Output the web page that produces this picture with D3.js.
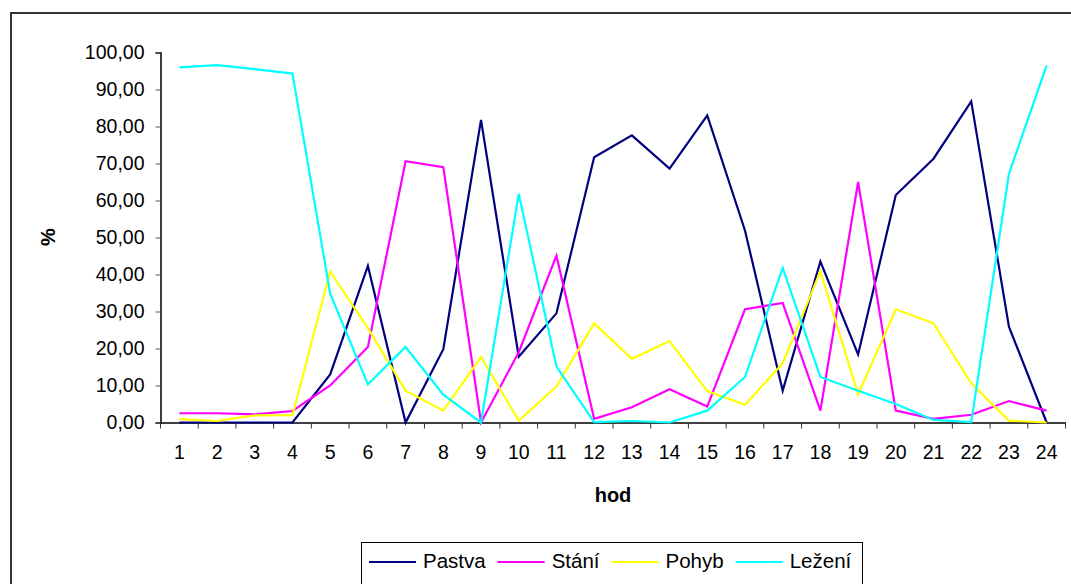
<!DOCTYPE html>
<html>
<head>
<meta charset="utf-8">
<script src="https://cdn.jsdelivr.net/npm/d3@7"></script>
<style>
  body { margin: 0; background: #fff; }
  text { font-family: Arial, "Liberation Sans", sans-serif; fill: #000; }
</style>
</head>
<body>
<div id="chart"></div>
<script>
var hours = ["1","2","3","4","5","6","7","8","9","10","11","12","13","14","15","16","17","18","19","20","21","22","23","24"];

var pastva = [0, 0, 0, 0, 13.0, 42.3, 0, 19.8, 81.8, 17.8, 29.5, 71.7, 77.6, 68.6, 83.0, 51.9, 8.6, 43.5, 18.4, 61.5, 71.3, 86.8, 25.9, 0];
var stani  = [2.5, 2.5, 2.2, 3.1, 10.0, 20.4, 70.6, 69.0, 0, 19.0, 45.1, 1.0, 4.1, 9.0, 4.3, 30.6, 32.3, 3.2, 65.0, 3.2, 1.0, 2.1, 5.8, 3.2];
var pohyb  = [0.9, 0.4, 1.9, 2.0, 40.8, 25.5, 8.6, 3.2, 17.7, 0.5, 9.7, 26.8, 17.2, 22.0, 8.5, 4.8, 16.0, 40.9, 7.6, 30.6, 26.8, 10.6, 0.5, 0];
var lezeni = [96.0, 96.6, 95.5, 94.3, 34.8, 10.3, 20.4, 7.5, 0, 61.8, 15.1, 0.1, 0.4, 0, 3.2, 12.3, 41.8, 12.3, 8.6, 5.0, 0.7, 0.1, 67.2, 96.5];

var seriesNames = ["Pastva", "Stání", "Pohyb", "Ležení"];
var colors = ["#000080", "#FF00FF", "#FFFF00", "#00FFFF"];
var yTicks = [0, 10, 20, 30, 40, 50, 60, 70, 80, 90, 100];

var series = [pastva, stani, pohyb, lezeni].map(function(v, i) {
	return {name: seriesNames[i], values: v.map(function(p, j) { return {hour: hours[j], val: p}; })};
});

var W = 1071, H = 584;
var plot = {left: 160.5, right: 1065.5, top: 52.5, bottom: 422.5};

var svg = d3.select("#chart").append("svg")
	.attr("width", W)
	.attr("height", H);

// outer frame
svg.append("rect")
	.attr("x", 11).attr("y", 13)
	.attr("width", W + 20).attr("height", H + 20)
	.attr("fill", "#fff")
	.attr("stroke", "#333")
	.attr("stroke-width", 2);

/* Scales */
var xScale = d3.scaleBand()
	.domain(hours)
	.range([plot.left, plot.right]);

var yScale = d3.scaleLinear()
	.domain([0, 100])
	.range([plot.bottom, plot.top]);

var fmt = function(d) { return d3.format(".2f")(d).replace(".", ","); };

/* Axes */
var yAxis = d3.axisLeft(yScale).tickValues(yTicks).tickFormat(fmt).tickSize(5).tickPadding(11);
var gy = svg.append("g")
	.attr("transform", "translate(" + plot.left + ",0)")
	.call(yAxis);
gy.select(".domain").attr("stroke", "#000").attr("stroke-width", 1.5);
gy.selectAll(".tick line").attr("stroke", "#555");
gy.selectAll("text").style("font-size", "19.5px").attr("font-family", null);

var xAxis = d3.axisBottom(xScale).tickSize(0).tickPadding(23);
var gx = svg.append("g")
	.attr("transform", "translate(0," + plot.bottom + ")")
	.call(xAxis);
gx.select(".domain").attr("stroke", "#000").attr("stroke-width", 1.5);
gx.selectAll("text").style("font-size", "19.5px").attr("font-family", null);

// tick marks between categories
var bounds = hours.map(function(h) { return xScale(h); }).concat([plot.right]);
gx.selectAll(".sep")
	.data(bounds).enter()
	.append("line")
	.attr("x1", d => d).attr("x2", d => d)
	.attr("y1", 0).attr("y2", 6)
	.attr("stroke", "#333");

/* Lines */
var line = d3.line()
	.x(d => xScale(d.hour) + xScale.bandwidth() / 2)
	.y(d => yScale(d.val));

svg.append("g").selectAll("path")
	.data(series).enter()
	.append("path")
	.attr("d", d => line(d.values))
	.attr("fill", "none")
	.attr("stroke", (d, i) => colors[i])
	.attr("stroke-width", 2.2)
	.attr("stroke-linejoin", "miter");

/* Axis titles */
svg.append("text")
	.attr("x", 613).attr("y", 502)
	.attr("text-anchor", "middle")
	.style("font-size", "20px")
	.style("font-weight", "bold")
	.text("hod");

svg.append("text")
	.attr("transform", "translate(55,237) rotate(-90)")
	.attr("text-anchor", "middle")
	.style("font-size", "20px")
	.style("font-weight", "bold")
	.text("%");

/* Legend */
var legend = svg.append("g");
legend.append("rect")
	.attr("x", 361.5).attr("y", 542.5)
	.attr("width", 501).attr("height", 60)
	.attr("fill", "#fff")
	.attr("stroke", "#000")
	.attr("stroke-width", 1);

var lx = 369;
series.forEach(function(s, i) {
	legend.append("line")
		.attr("x1", lx).attr("x2", lx + 47)
		.attr("y1", 562).attr("y2", 562)
		.attr("stroke", colors[i])
		.attr("stroke-width", 2);
	var t = legend.append("text")
		.attr("x", lx + 54).attr("y", 568)
		.style("font-size", "20.5px")
		.text(s.name);
	lx += 54 + t.node().getComputedTextLength() + 12;
});
</script>
</body>
</html>
